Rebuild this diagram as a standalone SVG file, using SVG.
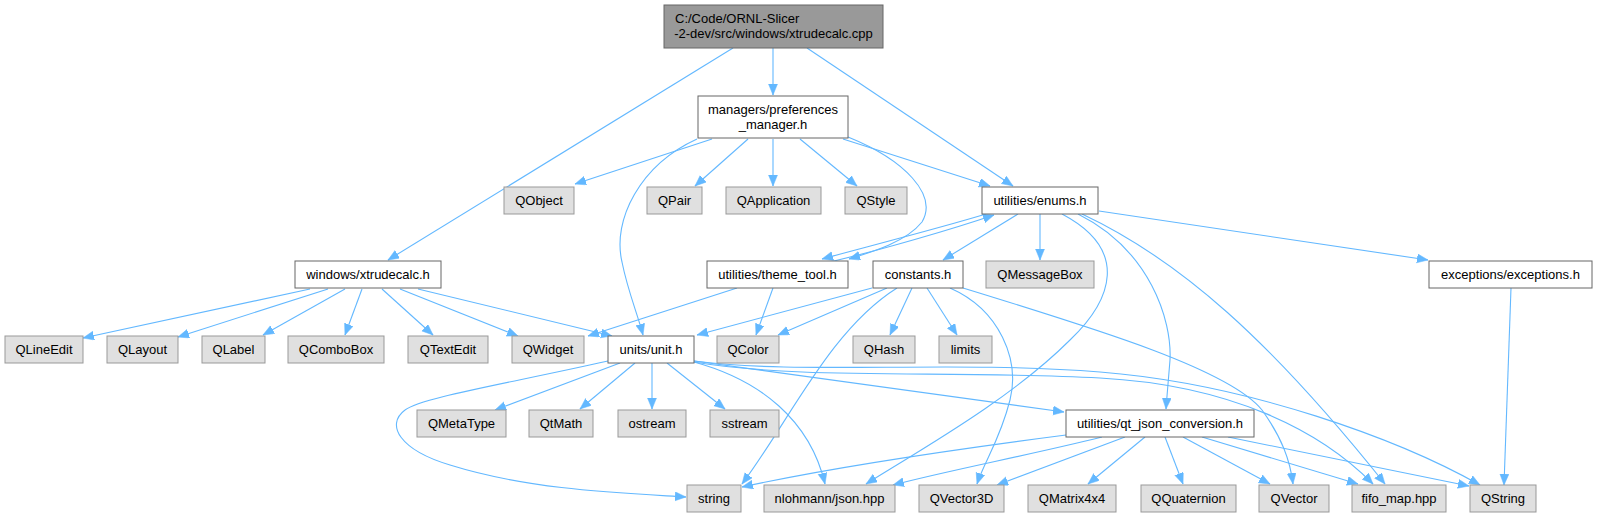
<svg xmlns="http://www.w3.org/2000/svg" width="1598" height="517" viewBox="0 0 1598 517">
<style>
  .n rect { fill: #ffffff; stroke: #666666; stroke-width: 1; }
  .g rect { fill: #e0e0e0; stroke: #999999; stroke-width: 1; }
  .r rect { fill: #999999; stroke: #666666; stroke-width: 1; }
  text { font-family: "Liberation Sans", Arial, sans-serif; font-size: 13px; fill: #000000; text-anchor: middle; }
  .e path { fill: none; stroke: #63b8ff; stroke-width: 1.1; marker-end: url(#ah); }
</style>
<defs>
  <marker id="ah" markerUnits="userSpaceOnUse" markerWidth="13" markerHeight="10" refX="11" refY="4.5" orient="auto">
    <path d="M0,0 L11,4.5 L0,9 z" fill="#63b8ff" stroke="#63b8ff" stroke-width="0.5"/>
  </marker>
</defs>
<rect width="1598" height="517" fill="#ffffff"/>

<g class="e" id="edges">
  <!-- root -->
  <path d="M733,48 L388,260"/>
  <path d="M773,48 L773,95"/>
  <path d="M807,48 L1013,186"/>
  <!-- preferences -->
  <path d="M712,139 L575,184"/>
  <path d="M697,139 C640,165 612,220 622,262 C628,292 637,312 643,335"/>
  <path d="M748,139 L695,186"/>
  <path d="M773,139 L773,186"/>
  <path d="M800,139 L857,186"/>
  <path d="M843,139 L990,186"/>
  <path d="M848,137 C905,160 938,195 922,222 C906,242 872,252 849,259"/>
  <!-- theme/enums -->
  <path d="M986,214 C940,228 862,248 822,259"/>
  <path d="M834,261 C880,250 950,230 994,215"/>
  <path d="M737,288 L588,336"/>
  <path d="M773,288 L756,335"/>
  <!-- constants -->
  <path d="M872,288 L697,335"/>
  <path d="M887,288 L778,335"/>
  <path d="M912,288 L890,335"/>
  <path d="M927,288 L957,335"/>
  <path d="M897,288 C830,330 790,420 742,484"/>
  <path d="M950,288 C1000,310 1020,360 1010,400 C1000,440 985,460 977,484"/>
  <path d="M963,288 C1100,330 1230,370 1262,410 C1282,438 1290,460 1293,484"/>
  <!-- enums -->
  <path d="M1018,214 L943,260"/>
  <path d="M1040,214 L1040,260"/>
  <path d="M1099,211 L1428,260"/>
  <path d="M1062,214 C1130,250 1112,300 1070,340 C1010,400 920,450 866,484"/>
  <path d="M1078,214 C1150,250 1172,320 1170,360 C1168,385 1167,395 1166,409"/>
  <path d="M1082,214 C1180,260 1270,340 1385,484"/>
  <!-- unit -->
  <path d="M620,363 L495,410"/>
  <path d="M635,363 L580,409"/>
  <path d="M652,363 L652,409"/>
  <path d="M667,363 L725,409"/>
  <path d="M608,361 C500,385 420,398 405,410 C385,425 400,450 450,465 C530,490 620,493 686,497"/>
  <path d="M694,362 C760,380 810,420 825,484"/>
  <path d="M694,361 L1064,412"/>
  <path d="M694,362 C800,380 950,370 1100,378 C1230,385 1320,430 1373,484"/>
  <path d="M694,361 C800,375 950,360 1100,372 C1250,384 1400,440 1480,485"/>
  <!-- qt_json_conversion -->
  <path d="M1066,435 C950,450 820,470 742,487"/>
  <path d="M1102,437 C1030,455 950,470 893,485"/>
  <path d="M1125,437 L997,485"/>
  <path d="M1145,437 L1088,484"/>
  <path d="M1165,437 L1183,484"/>
  <path d="M1183,437 L1270,484"/>
  <path d="M1202,437 L1358,484"/>
  <path d="M1228,437 L1469,486"/>
  <!-- windows/xtrudecalc.h -->
  <path d="M310,289 L83,338"/>
  <path d="M328,289 L178,337"/>
  <path d="M345,289 L263,335"/>
  <path d="M362,289 L345,335"/>
  <path d="M382,289 L433,335"/>
  <path d="M400,289 L518,336"/>
  <path d="M418,289 L612,336"/>
  <!-- exceptions -->
  <path d="M1511,288 L1504,485"/>
</g>

<g id="root" class="r"><rect x="664" y="5" width="219" height="43"/>
  <text x="675" y="23" style="text-anchor:start">C:/Code/ORNL-Slicer</text>
  <text x="773.5" y="38">-2-dev/src/windows/xtrudecalc.cpp</text></g>
<g id="prefs" class="n"><rect x="698" y="96" width="150" height="42"/>
  <text x="773" y="114">managers/preferences</text>
  <text x="773" y="129">_manager.h</text></g>
<g id="xtrudecalc_h" class="n"><rect x="295" y="261" width="146" height="27"/><text x="368" y="279">windows/xtrudecalc.h</text></g>
<g id="enums" class="n"><rect x="982" y="187" width="116" height="27"/><text x="1040" y="205">utilities/enums.h</text></g>
<g id="QObject" class="g"><rect x="504" y="187" width="70" height="27"/><text x="539" y="205">QObject</text></g>
<g id="QPair" class="g"><rect x="647" y="187" width="55" height="27"/><text x="674.5" y="205">QPair</text></g>
<g id="QApplication" class="g"><rect x="726" y="187" width="95" height="27"/><text x="773.5" y="205">QApplication</text></g>
<g id="QStyle" class="g"><rect x="845" y="187" width="62" height="27"/><text x="876" y="205">QStyle</text></g>
<g id="theme" class="n"><rect x="707" y="261" width="141" height="27"/><text x="777.5" y="279">utilities/theme_tool.h</text></g>
<g id="constants" class="n"><rect x="873" y="261" width="90" height="27"/><text x="918" y="279">constants.h</text></g>
<g id="QMessageBox" class="g"><rect x="986" y="261" width="108" height="27"/><text x="1040" y="279">QMessageBox</text></g>
<g id="exceptions" class="n"><rect x="1429" y="261" width="163" height="27"/><text x="1510.5" y="279">exceptions/exceptions.h</text></g>
<g id="QLineEdit" class="g"><rect x="5" y="336" width="78" height="27"/><text x="44" y="354">QLineEdit</text></g>
<g id="QLayout" class="g"><rect x="107" y="336" width="71" height="27"/><text x="142.5" y="354">QLayout</text></g>
<g id="QLabel" class="g"><rect x="202" y="336" width="63" height="27"/><text x="233.5" y="354">QLabel</text></g>
<g id="QComboBox" class="g"><rect x="288" y="336" width="96" height="27"/><text x="336" y="354">QComboBox</text></g>
<g id="QTextEdit" class="g"><rect x="408" y="336" width="80" height="27"/><text x="448" y="354">QTextEdit</text></g>
<g id="QWidget" class="g"><rect x="512" y="336" width="72" height="27"/><text x="548" y="354">QWidget</text></g>
<g id="unit" class="n"><rect x="608" y="336" width="86" height="27"/><text x="651" y="354">units/unit.h</text></g>
<g id="QColor" class="g"><rect x="717" y="336" width="62" height="27"/><text x="748" y="354">QColor</text></g>
<g id="QHash" class="g"><rect x="853" y="336" width="62" height="27"/><text x="884" y="354">QHash</text></g>
<g id="limits" class="g"><rect x="939" y="336" width="53" height="27"/><text x="965.5" y="354">limits</text></g>
<g id="QMetaType" class="g"><rect x="417" y="410" width="89" height="27"/><text x="461.5" y="428">QMetaType</text></g>
<g id="QtMath" class="g"><rect x="529" y="410" width="64" height="27"/><text x="561" y="428">QtMath</text></g>
<g id="ostream" class="g"><rect x="618" y="410" width="68" height="27"/><text x="652" y="428">ostream</text></g>
<g id="sstream" class="g"><rect x="710" y="410" width="69" height="27"/><text x="744.5" y="428">sstream</text></g>
<g id="qt_json" class="n"><rect x="1066" y="410" width="188" height="27"/><text x="1160" y="428">utilities/qt_json_conversion.h</text></g>
<g id="string" class="g"><rect x="687" y="485" width="54" height="27"/><text x="714" y="503">string</text></g>
<g id="nlohmann" class="g"><rect x="764" y="485" width="131" height="27"/><text x="829.5" y="503">nlohmann/json.hpp</text></g>
<g id="QVector3D" class="g"><rect x="919" y="485" width="85" height="27"/><text x="961.5" y="503">QVector3D</text></g>
<g id="QMatrix4x4" class="g"><rect x="1028" y="485" width="88" height="27"/><text x="1072" y="503">QMatrix4x4</text></g>
<g id="QQuaternion" class="g"><rect x="1141" y="485" width="95" height="27"/><text x="1188.5" y="503">QQuaternion</text></g>
<g id="QVector" class="g"><rect x="1259" y="485" width="70" height="27"/><text x="1294" y="503">QVector</text></g>
<g id="fifo_map" class="g"><rect x="1352" y="485" width="94" height="27"/><text x="1399" y="503">fifo_map.hpp</text></g>
<g id="QString" class="g"><rect x="1470" y="485" width="66" height="27"/><text x="1503" y="503">QString</text></g>
</svg>
